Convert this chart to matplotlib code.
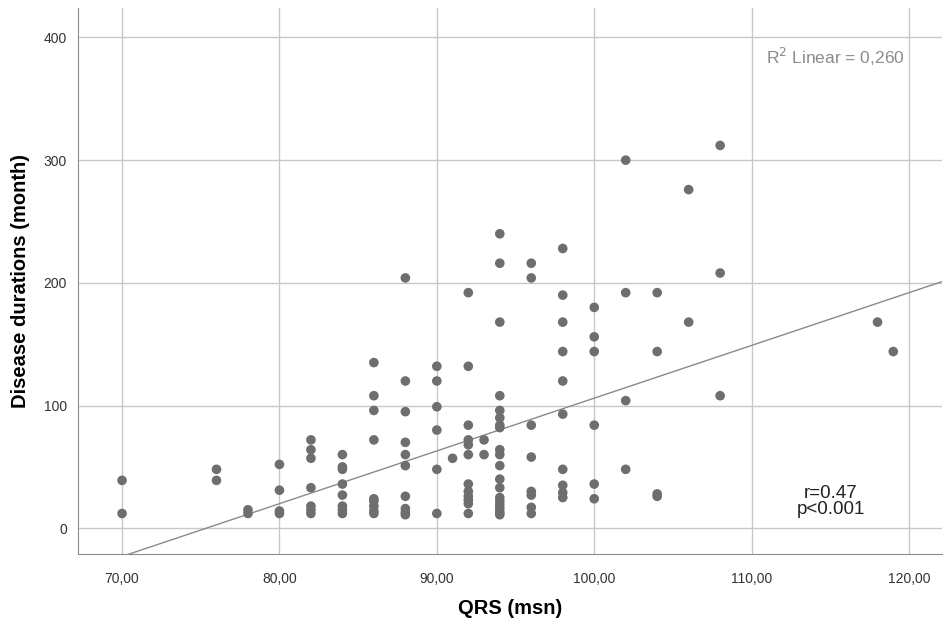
import numpy as np
import matplotlib
matplotlib.use("Agg")
from matplotlib import pyplot as plt
from matplotlib.ticker import FuncFormatter

plt.rcParams['font.family'] = ['Liberation Sans', 'DejaVu Sans']

# QRS (msn) -> list of disease durations (month)
qrs_groups = {
    70: [39, 12],
    76: [48, 39],
    78: [15, 12],
    80: [52, 31, 14, 12],
    82: [72, 64, 57, 33, 18, 15, 12],
    84: [60, 50, 48, 36, 27, 18, 15, 12],
    86: [135, 108, 96, 72, 24, 22, 18, 14, 12],
    88: [204, 120, 95, 70, 60, 51, 26, 16, 13, 11],
    90: [132, 120, 99, 80, 48, 12],
    91: [57],
    92: [192, 132, 84, 72, 68, 60, 36, 30, 26, 23, 20, 12],
    93: [72, 60],
    94: [240, 216, 168, 108, 96, 90, 84, 82, 64, 60, 51, 40, 33, 25, 22, 19, 16, 13, 11],
    96: [216, 204, 84, 58, 30, 27, 17, 12],
    98: [228, 190, 168, 144, 120, 93, 48, 35, 29, 25],
    100: [180, 156, 144, 84, 36, 24],
    102: [300, 192, 104, 48],
    104: [192, 144, 28, 26],
    106: [276, 168],
    108: [312, 208, 108],
    118: [168],
    119: [144],
}
qrs = np.array([k for k, v in qrs_groups.items() for _ in v], dtype=float)
duration = np.array([d for v in qrs_groups.values() for d in v], dtype=float)

# fit line as drawn in the picture
fit_slope = 4.3
fit_intercept = -324.0

x_ticks = [70, 80, 90, 100, 110, 120]
y_ticks = [0, 100, 200, 300, 400]

fig = plt.figure(figsize=(9.43, 6.18), dpi=100)
ax = fig.add_axes([0.0827, 0.1036, 0.9163, 0.8834])

ax.set_xlim(67.2, 122.1)
ax.set_ylim(-21, 424)
ax.set_xticks(x_ticks)
ax.set_yticks(y_ticks)
ax.xaxis.set_major_formatter(FuncFormatter(lambda v, p: f"{v:.2f}".replace('.', ',')))
ax.grid(True, color='#c8c8c8', lw=1)
ax.set_axisbelow(True)
for s in ['top', 'right']:
    ax.spines[s].set_visible(False)
for s in ['left', 'bottom']:
    ax.spines[s].set_color('#8c8c8c')
ax.tick_params(length=0, labelsize=10, colors='#333333', pad=13)
ax.tick_params(axis='y', pad=8)

xs = np.array(ax.get_xlim())
ax.plot(xs, fit_intercept + fit_slope * xs, color='#8a8a8a', lw=1, zorder=2)
ax.scatter(qrs, duration, s=48, color='#6e6e6e', edgecolors='none', zorder=3)

ax.text(0.957, 0.910, r'R$^2$ Linear = 0,260', transform=ax.transAxes,
        ha='right', va='center', fontsize=12.5, color='#8c8c8c')
ax.text(115.05, 22, 'r=0.47\np<0.001', ha='center', va='center',
        fontsize=13.5, color='#222222', linespacing=0.95)

ax.set_xlabel('QRS (msn)', fontsize=14.5, fontweight='bold', labelpad=9)
ax.set_ylabel('Disease durations (month)', fontsize=14.5, fontweight='bold', labelpad=10)

fig.savefig('out.png', dpi=100)
